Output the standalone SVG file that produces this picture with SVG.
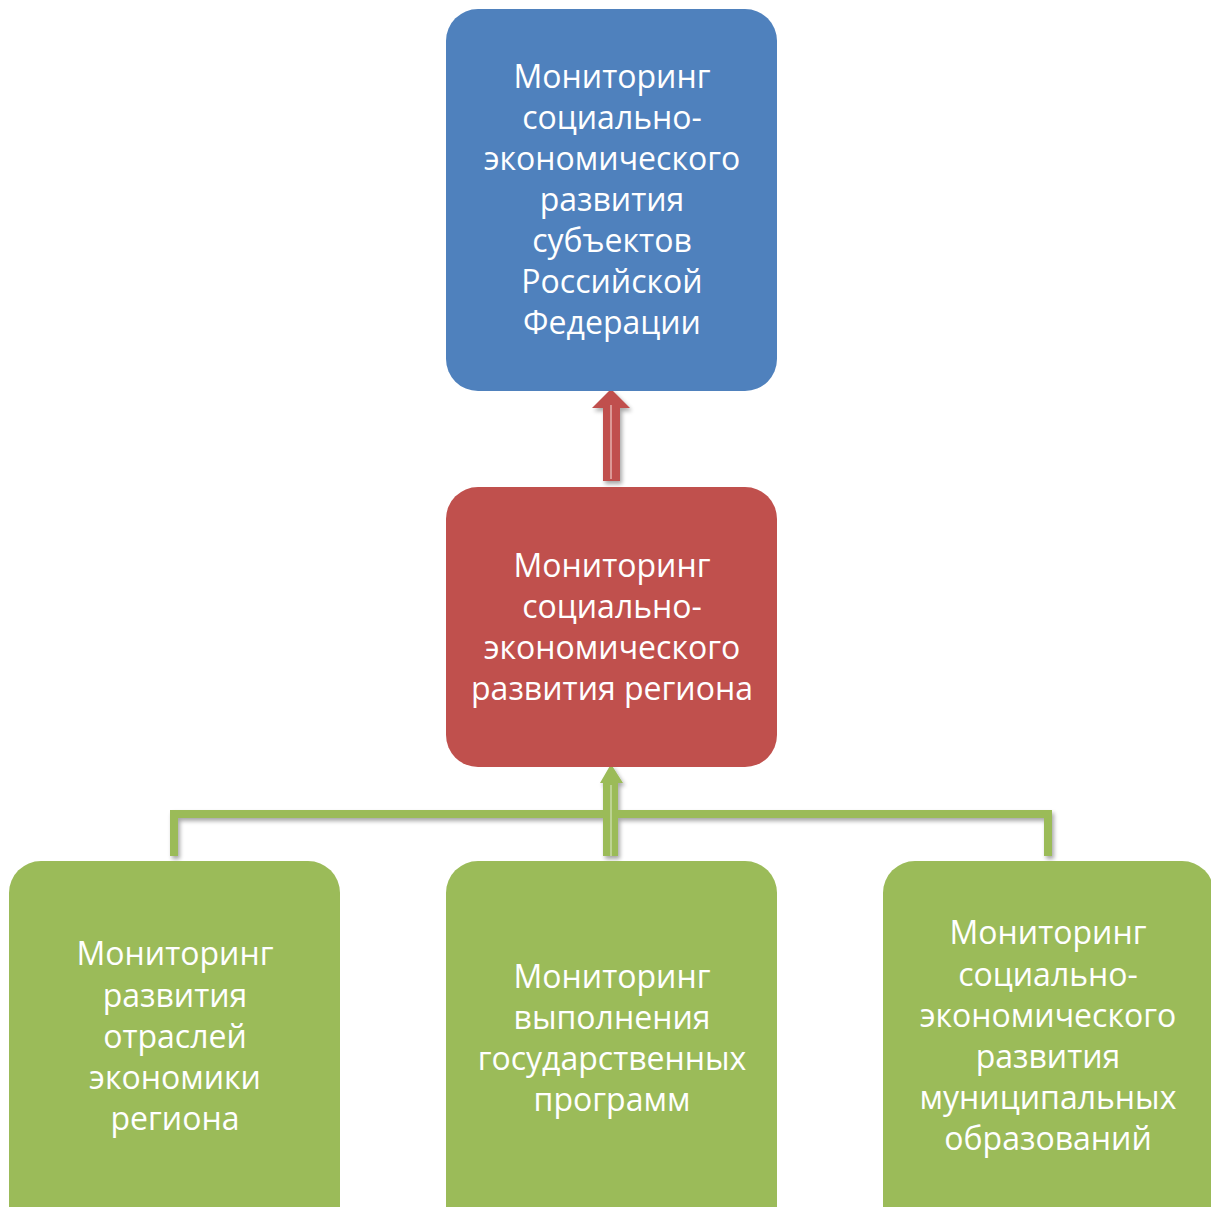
<svg xmlns="http://www.w3.org/2000/svg" width="1211" height="1207" viewBox="0 0 1211 1207">
<style>
.t{font-family:"Open Sans","Liberation Sans",sans-serif;font-size:32px;fill:#fff;text-anchor:middle}
</style>
<defs>
<filter id="sh" x="-20%" y="-20%" width="140%" height="140%"><feGaussianBlur in="SourceAlpha" stdDeviation="2"/><feOffset dx="2" dy="3"/><feComponentTransfer><feFuncA type="linear" slope="0.35"/></feComponentTransfer><feMerge><feMergeNode/><feMergeNode in="SourceGraphic"/></feMerge></filter>
</defs>
<rect width="1211" height="1207" fill="#fff"/>
<g id="connectors" filter="url(#sh)">
<path d="M174 856 V814 H1048 V856" fill="none" stroke="#9bbb59" stroke-width="8"/>
<path d="M603 856 V783 H600 L611 764 L623 783 H618 V856 Z" fill="#9bbb59"/>
<line x1="611" y1="785" x2="611" y2="856" stroke="#c9dba6" stroke-width="1.5"/>
<path d="M603 481 V408 H592 L611 389 L630 408 H620 V481 Z" fill="#c0504d"/>
<line x1="611" y1="405" x2="611" y2="479" stroke="#e6b0ae" stroke-width="1.5"/>
</g>
<g id="n-federal">
<rect x="446" y="9" width="331" height="382" rx="32" fill="#4f81bd"/>
<text class="t"><tspan x="612" y="88">Мониторинг</tspan><tspan x="612" y="129">социально-</tspan><tspan x="612" y="170">экономического</tspan><tspan x="612" y="211">развития</tspan><tspan x="612" y="252">субъектов</tspan><tspan x="612" y="293">Российской</tspan><tspan x="612" y="334">Федерации</tspan></text>
</g>
<g id="n-region">
<rect x="446" y="487" width="331" height="280" rx="32" fill="#c0504d"/>
<text class="t"><tspan x="612" y="577">Мониторинг</tspan><tspan x="612" y="618">социально-</tspan><tspan x="612" y="659">экономического</tspan><tspan x="612" y="700">развития региона</tspan></text>
</g>
<g id="n-branches">
<rect x="9" y="861" width="331" height="380" rx="32" fill="#9bbb59"/>
<text class="t"><tspan x="175" y="965">Мониторинг</tspan><tspan x="175" y="1007">развития</tspan><tspan x="175" y="1048">отраслей</tspan><tspan x="175" y="1089">экономики</tspan><tspan x="175" y="1130">региона</tspan></text>
</g>
<g id="n-programs">
<rect x="446" y="861" width="331" height="380" rx="32" fill="#9bbb59"/>
<text class="t"><tspan x="612" y="988">Мониторинг</tspan><tspan x="612" y="1029">выполнения</tspan><tspan x="612" y="1070">государственных</tspan><tspan x="612" y="1111">программ</tspan></text>
</g>
<g id="n-municipal">
<rect x="883" y="861" width="331" height="380" rx="32" fill="#9bbb59"/>
<text class="t"><tspan x="1048" y="944">Мониторинг</tspan><tspan x="1048" y="986">социально-</tspan><tspan x="1048" y="1027">экономического</tspan><tspan x="1048" y="1068">развития</tspan><tspan x="1048" y="1109">муниципальных</tspan><tspan x="1048" y="1150">образований</tspan></text>
</g>
</svg>
